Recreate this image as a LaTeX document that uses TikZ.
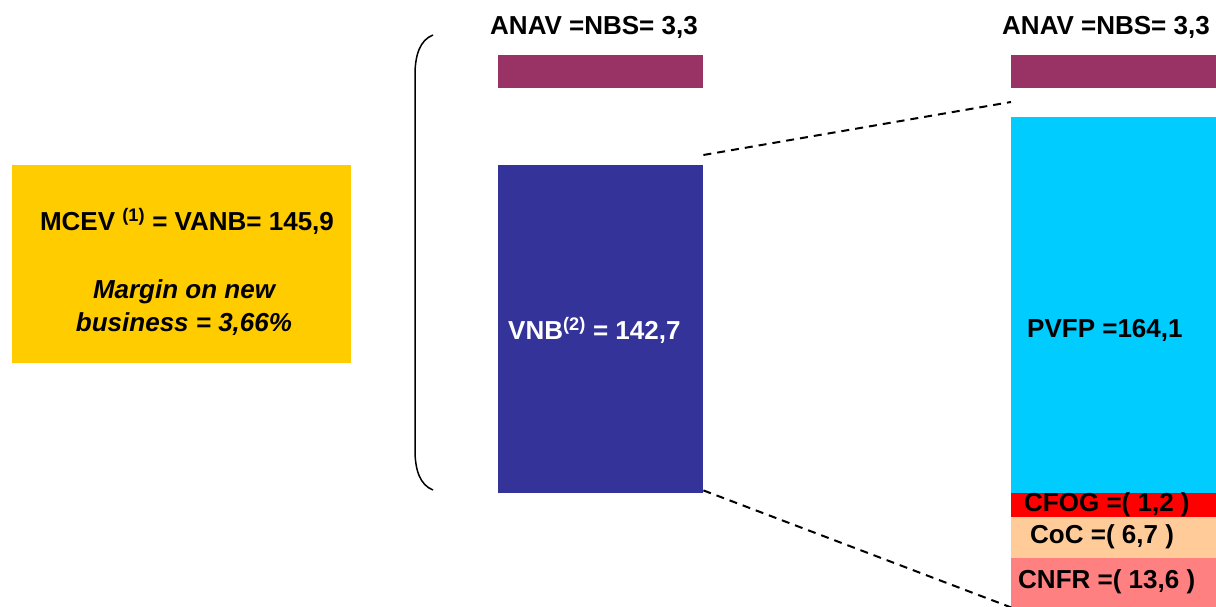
\documentclass[tikz,border=0pt]{standalone}
\usepackage{fontspec}
\setmainfont{Liberation Sans}
\definecolor{goldbox}{HTML}{FFCC00}
\definecolor{plum}{HTML}{993366}
\definecolor{navy}{HTML}{333399}
\definecolor{sky}{HTML}{00CCFF}
\definecolor{peach}{HTML}{FFCC99}
\definecolor{salmon}{HTML}{FF8080}
\begin{document}
\begin{tikzpicture}[x=1pt,y=1pt,
  bar/.style={draw=none,inner sep=0pt,anchor=north west},
  lbl/.style={font=\fontsize{26}{30}\selectfont\bfseries,inner sep=0pt},
  link/.style={line width=2pt,dash pattern=on 8pt off 6pt}]
\useasboundingbox (0,0) rectangle (1216,-607);

% summary box
\node[bar,fill=goldbox,minimum width=339pt,minimum height=198pt] (mcev) at (12,-165) {};
\node[lbl] (mcevt) at (187,-221) {MCEV \textsuperscript{(1)} = VANB= 145,9};
\node[lbl,font=\fontsize{26}{33}\selectfont\bfseries\itshape,align=center] (margin) at (184,-308)
  {Margin on new\\business = 3,66\%};

% left column
\node[lbl] (anavl) at (594,-27) {ANAV =NBS= 3,3};
\node[bar,fill=plum,minimum width=205pt,minimum height=33pt] (nbsl) at (498,-55) {};
\node[bar,fill=navy,minimum width=205pt,minimum height=328pt] (vnb) at (498,-165) {};
\node[lbl,text=white,anchor=west] (vnbt) at (508,-330) {VNB\textsuperscript{(2)} = 142,7};

% bracket spanning the left column
\draw[line width=1.5pt] (433,-35) .. controls (420,-40) and (415,-55) .. (415,-75)
  -- (415,-450) .. controls (415,-470) and (420,-485) .. (433,-490);

% right column
\node[lbl] (anavr) at (1106,-27) {ANAV =NBS= 3,3};
\node[bar,fill=plum,minimum width=205pt,minimum height=33pt] (nbsr) at (1011,-55) {};
\node[bar,fill=sky,minimum width=205pt,minimum height=376pt] (pvfp) at (1011,-117) {};
\node[lbl,anchor=west] (pvfpt) at (1027,-330) {PVFP =164,1};
\node[bar,fill=red,minimum width=205pt,minimum height=24pt] (cfog) at (1011,-493) {};
\node[bar,fill=peach,minimum width=205pt,minimum height=41pt] (coc) at (1011,-517) {};
\node[bar,fill=salmon,minimum width=205pt,minimum height=49pt] (cnfr) at (1011,-558) {};
\node[lbl,anchor=west] (cfogt) at (1024,-505) {CFOG =( 1,2 )};
\node[lbl,anchor=west] (coct) at (1030,-537) {CoC =( 6,7 )};
\node[lbl,anchor=west] (cnfrt) at (1018,-582) {CNFR =( 13,6 )};

% dashed projection lines
\draw[link] ([yshift=10pt]vnb.north east) -- ([yshift=15pt]pvfp.north west);
\draw[link] ([yshift=3pt]vnb.south east) -- (cnfr.south west);
\end{tikzpicture}
\end{document}
